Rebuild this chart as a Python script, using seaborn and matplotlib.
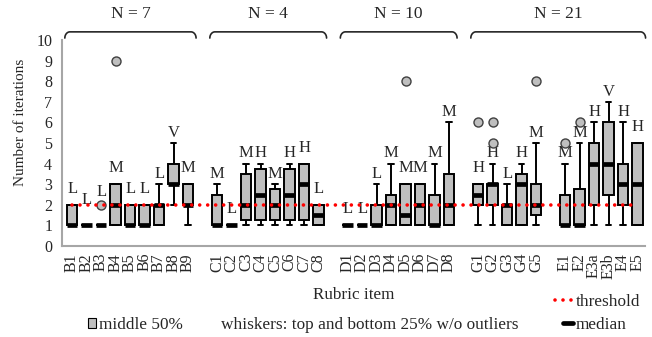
import numpy as np
import pandas as pd
import seaborn as sns
import matplotlib.pyplot as plt
from matplotlib.patches import Patch
from matplotlib.lines import Line2D

# Rubric items, split into the blocks that sit apart on the x axis.
blocks = [
    ["B1", "B2", "B3", "B4", "B5", "B6", "B7", "B8", "B9"],
    ["C1", "C2", "C3", "C4", "C5", "C6", "C7", "C8"],
    ["D1", "D2", "D3", "D4", "D5", "D6", "D7", "D8"],
    ["G1", "G2", "G3", "G4", "G5"],
    ["E1", "E2", "E3a", "E3b", "E4", "E5"],
]
# Group headers and which blocks they cover.
group_names = ["N = 7", "N = 4", "N = 10", "N = 21"]
group_blocks = [[0], [1], [2], [3, 4]]

# Box statistics per item (same order as the blocks above).
whis_lo = [1, 1, 1, 1, 1, 1, 1, 2, 1,
           1, 1, 1, 1, 1, 1, 1, 1,
           1, 1, 1, 1, 1, 1, 1, 1,
           1, 1, 1, 1, 1,
           1, 1, 1, 1, 1, 1]
q1 = [1, 1, 1, 1, 1, 1, 1, 3, 2,
      1, 1, 1.25, 1.25, 1.25, 1.25, 1.25, 1,
      1, 1, 1, 1, 1, 1, 1, 1,
      2, 2, 1, 1, 1.5,
      1, 1, 2, 2.5, 2, 1]
median = [1, 1, 1, 2, 1, 1, 2, 3, 2,
          1, 1, 2, 2.5, 2, 2.5, 3, 1.5,
          1, 1, 1, 2, 1.5, 2, 1, 2,
          2.5, 3, 2, 3, 2,
          1, 1, 4, 4, 3, 3]
q3 = [2, 1, 1, 3, 2, 2, 2, 4, 3,
      2.5, 1, 3.5, 3.75, 2.75, 3.75, 4, 2,
      1, 1, 2, 2.5, 3, 3, 2.5, 3.5,
      3, 3, 2, 3.5, 3,
      2.5, 2.75, 5, 6, 4, 5]
whis_hi = [2, 1, 1, 3, 2, 2, 3, 5, 3,
           3, 1, 4, 4, 3, 4, 4, 2,
           1, 1, 3, 4, 3, 3, 4, 6,
           3, 4, 3, 4, 5,
           4, 5, 6, 7, 6, 5]
outliers = {"B3": [2], "B4": [9], "D5": [8], "G1": [6], "G2": [5, 6],
            "G5": [8], "E1": [5], "E2": [6]}
ratings = ["L", "L", "L", "M", "L", "L", "L", "V", "M",
           "M", "L", "M", "H", "M", "H", "H", "L",
           "L", "L", "L", "M", "M", "M", "M", "M",
           "H", "H", "L", "H", "M",
           "M", "M", "H", "V", "H", "H"]
label_lift = {"B2": 0.45, "B3": 0.82}
threshold = 2

items = [it for b in blocks for it in b]

# x order with an empty slot after each block
order = []
for i, b in enumerate(blocks):
    order += b
    if i < len(blocks) - 1:
        order.append("_gap%d" % i)

# five points per item give exactly these quartiles and (min/max) whiskers
rows = []
for k, it in enumerate(items):
    for v in (whis_lo[k], q1[k], median[k], q3[k], whis_hi[k]):
        rows.append({"item": it, "value": v})
df = pd.DataFrame(rows)
fl = pd.DataFrame([{"item": it, "value": v} for it, vs in outliers.items() for v in vs])

sns.set_theme(style="white")
plt.rcParams["font.family"] = ["Liberation Serif", "DejaVu Serif"]
plt.rcParams["font.size"] = 11

fig = plt.figure(figsize=(6.52, 3.37), dpi=100)
ax = fig.add_axes([0.095, 0.27, 0.894, 0.611])

sns.boxplot(data=df, x="item", y="value", order=order, whis=(0, 100),
            width=0.72, color="#bfbfbf", saturation=1, linecolor="black",
            linewidth=1.4, fliersize=0,
            medianprops=dict(color="black", linewidth=3.4, solid_capstyle="butt"),
            ax=ax)
sns.stripplot(data=fl, x="item", y="value", order=order, jitter=False,
              color="#bfbfbf", edgecolor="#404040", linewidth=1, size=6.5,
              ax=ax, zorder=5)

# red dotted threshold from the first to the last item
ax.plot([0, len(order) - 1], [threshold, threshold], color="red",
        linewidth=2.6, linestyle=(0, (0.01, 2.2)), dash_capstyle="round", zorder=6)

# rating letters above each box
for k, it in enumerate(items):
    x = order.index(it)
    base = whis_hi[k] + (0.5 if whis_hi[k] > q3[k] else 0.78)
    ax.text(x, base + label_lift.get(it, 0), ratings[k], ha="center",
            va="center", fontsize=12)

# group brackets with N labels
trans = ax.get_xaxis_transform()
for name, bl in zip(group_names, group_blocks):
    x0 = order.index(blocks[bl[0]][0]) - 0.5
    x1 = order.index(blocks[bl[-1]][-1]) + 0.55
    rx, ry, ytop = 0.35, 0.03, 1.04
    t = np.linspace(0, np.pi / 2, 20)
    lx = x0 + rx * (1 - np.cos(t))
    ly = ytop - ry * (1 - np.sin(t))
    xs = np.concatenate([lx, (x0 + x1) - lx[::-1]])
    ys = np.concatenate([ly, ly[::-1]])
    ax.plot(xs, ys, color="#262626", linewidth=1.2, transform=trans, clip_on=False)
    ax.text((x0 + x1) / 2, 1.125, name, ha="center", va="center",
            fontsize=12.5, transform=trans)

ax.set_ylim(0, 10)
ax.set_yticks(range(0, 11))
ax.set_xlim(-0.7, len(order) - 0.5)
ax.set_xticks(range(len(order)),
              ["" if s.startswith("_") else s for s in order], rotation=90)
ax.tick_params(length=0, labelsize=11.5)
ax.tick_params(axis="x", pad=5)
ax.tick_params(axis="y", pad=7)
for s in ["top", "right"]:
    ax.spines[s].set_visible(False)
for s in ["left", "bottom"]:
    ax.spines[s].set_color("#a6a6a6")
    ax.spines[s].set_linewidth(1.5)

ax.set_ylabel("Number of iterations", fontsize=11)
ax.yaxis.set_label_coords(-0.06, 0.6)
ax.set_xlabel("Rubric item", fontsize=12.3)
ax.xaxis.set_label_coords(0.5, -0.197)

# legends
leg_fs = 12.4
fig.legend(handles=[Line2D([], [], color="red", linewidth=2.6,
                           linestyle=(0, (0.01, 2.2)), dash_capstyle="round")],
           labels=["threshold"], loc="center left", bbox_to_anchor=(0.827, 0.104),
           frameon=False, handlelength=1.05, handletextpad=0.15, fontsize=leg_fs)
fig.legend(handles=[Patch(facecolor="#bfbfbf", edgecolor="black", linewidth=0.8)],
           labels=["middle 50%"], loc="center left", bbox_to_anchor=(0.111, 0.036),
           frameon=False, handlelength=0.48, handleheight=0.55, handletextpad=0.17,
           fontsize=leg_fs)
fig.text(0.339, 0.036, "whiskers: top and bottom 25% w/o outliers",
         ha="left", va="center", fontsize=leg_fs)
fig.legend(handles=[Line2D([], [], color="black", linewidth=3.4)],
           labels=["median"], loc="center left", bbox_to_anchor=(0.839, 0.036),
           frameon=False, handlelength=0.63, handletextpad=0.15, fontsize=leg_fs)

fig.savefig("out.png", dpi=100)
